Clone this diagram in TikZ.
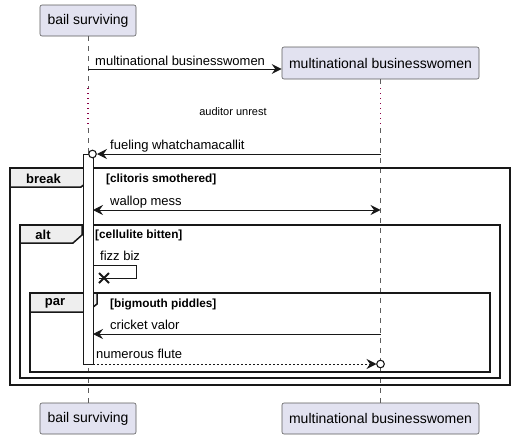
\documentclass[tikz,border=0pt]{standalone}
\usepackage{fontspec}
\setmainfont{Liberation Sans}
\usetikzlibrary{arrows.meta}
\definecolor{partfill}{HTML}{E2E2F0}
\definecolor{partline}{HTML}{5A5A5A}
\definecolor{tabfill}{HTML}{EEEEEE}
\definecolor{ink}{HTML}{181818}
\definecolor{delayc}{HTML}{8B0046}
\begin{document}
\begin{tikzpicture}[x=1pt,y=-1pt,
  part/.style={draw=partline,line width=0.6pt,fill=partfill,rounded corners=2pt,inner sep=0pt,font=\fontsize{14}{16}\selectfont},
  life/.style={draw=ink!70,line width=0.6pt,dash pattern=on 5pt off 5pt},
  delayline/.style={draw=delayc,line width=1.2pt,dash pattern=on 1.2pt off 3.8pt},
  frame/.style={draw=ink,line width=1.5pt},
  tab/.style={draw=ink,line width=1.5pt,fill=tabfill},
  tabtxt/.style={font=\bfseries\fontsize{13}{15}\selectfont,inner sep=0pt},
  guard/.style={font=\bfseries\fontsize{11.8}{13}\selectfont,inner sep=0pt,anchor=west},
  msgtxt/.style={font=\fontsize{13}{15}\selectfont,inner sep=0pt,anchor=west},
  msg/.style={draw=ink,line width=1pt,-{Stealth[length=10pt,width=10pt,inset=3.5pt]}},
  msgboth/.style={draw=ink,line width=1pt,{Stealth[length=10pt,width=10pt,inset=3.5pt]}-{Stealth[length=10pt,width=10pt,inset=3.5pt]}},
  ret/.style={draw=ink,line width=1pt,dash pattern=on 2pt off 2pt,-{Stealth[length=10pt,width=10pt,inset=3.5pt]}},
  act/.style={draw=ink,line width=1pt,fill=white},
  endcirc/.style={draw=ink,line width=1.1pt,fill=white}
]
\useasboundingbox (0,0) rectangle (514,439);
% participants
\node[part,minimum width=96pt,minimum height=31pt] (b1) at (88,20.5) {bail surviving};
\node[part,minimum width=197pt,minimum height=32pt] (m1) at (380.5,63) {multinational businesswomen};
\node[part,minimum width=96pt,minimum height=31pt] (b2) at (88,418.5) {bail surviving};
\node[part,minimum width=197pt,minimum height=31pt] (m2) at (380.5,418.5) {multinational businesswomen};
% lifeline points
\coordinate (bd1) at (88,88);
\coordinate (bd2) at (88,128);
\coordinate (md1) at (380.5,88);
\coordinate (md2) at (380.5,128);
\draw[life] (b1.south) -- (bd1);
\draw[delayline] (bd1) -- (bd2);
\draw[life] (bd2) -- (b2.north);
\draw[life] (m1.south) -- (md1);
\draw[delayline] (md1) -- (md2);
\draw[life] (md2) -- (m2.north);
\node[font=\fontsize{11}{13}\selectfont,inner sep=0pt] (delaytxt) at (233,112) {auditor unrest};
% message 1
\coordinate (s1) at (88,69);
\coordinate (e1) at (m1.west |- s1);
\draw[msg] (s1) -- (e1);
\node[msgtxt] (t1) at (95,61) {multinational businesswomen};
% frames
\draw[frame] (10,168) rectangle (510,385);
\draw[tab] (10,168) -- (91,168) -- (91,179) -- (81,187) -- (10,187) -- cycle;
\node[tabtxt] (brk) at (43.5,178.5) {break};
\node[guard] (g1) at (106,179) {[clitoris smothered]};
\draw[frame] (20,225) rectangle (500,378);
\draw[tab] (20,225) -- (82,225) -- (82,235) -- (73,243) -- (20,243) -- cycle;
\node[tabtxt] (altt) at (43,235) {alt};
\node[guard] (g2) at (95,235) {[cellulite bitten]};
\draw[frame] (30,293) rectangle (490,372);
\draw[tab] (30,293) -- (97,293) -- (97,304) -- (87,312) -- (30,312) -- cycle;
\node[tabtxt] (part) at (55,303.5) {par};
\node[guard] (g3) at (110,304) {[bigmouth piddles]};
% activation
\draw[act] (83,154) rectangle (93,364);
% fueling
\coordinate (s2) at (380.5,154);
\coordinate (e2) at (97,154);
\coordinate (c2) at (92.5,154);
\draw[msg] (s2) -- (e2);
\draw[endcirc] (c2) circle (3.8pt);
\node[msgtxt] (t2) at (110,146) {fueling whatchamacallit};
% wallop
\coordinate (s3) at (93,210);
\coordinate (e3) at (380.5,210);
\draw[msgboth] (s3) -- (e3);
\node[msgtxt] (t3) at (110,202) {wallop mess};
% fizz biz
\coordinate (s4) at (93,265);
\coordinate (k4) at (136,265);
\coordinate (k5) at (136,278);
\coordinate (e4) at (99,278);
\draw[draw=ink,line width=1pt] (s4) -- (k4) -- (k5) -- (e4);
\draw[draw=ink,line width=1.8pt] (99,273) -- (109,283) (99,283) -- (109,273);
\node[msgtxt] (t4) at (100,256) {fizz biz};
% cricket valor
\coordinate (s5) at (380.5,334);
\coordinate (e5) at (93,334);
\draw[msg] (s5) -- (e5);
\node[msgtxt] (t5) at (110,325) {cricket valor};
% numerous flute
\coordinate (s6) at (93,364);
\coordinate (e6) at (376.5,364);
\coordinate (c6) at (380.5,364);
\draw[ret] (s6) -- (e6);
\draw[endcirc] (c6) circle (3.8pt);
\node[msgtxt] (t6) at (96,354) {numerous flute};
\end{tikzpicture}
\end{document}
